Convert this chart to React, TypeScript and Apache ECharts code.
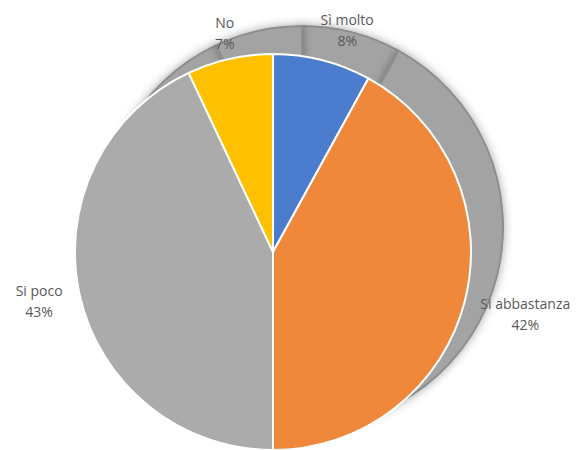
import React, { useEffect, useRef } from "react";
import * as echarts from "echarts";

const categories = ["Sì molto", "Si abbastanza", "Si poco", "No"];
const percentValues = [8, 42, 43, 7];
const sliceColors = ["#4B7CCD", "#F0883B", "#ABABAB", "#FFC000"];

const CX = 273;
const CY = 252;
const R = 198;
const LABEL_GAP = 12;

export default function App() {
  const ref = useRef<HTMLDivElement>(null);
  useEffect(() => {
    if (!ref.current) return;
    const chart = echarts.init(ref.current, null, { renderer: "svg" });
    const total = percentValues.reduce((a, b) => a + b, 0);
    const mids: number[] = [];
    let acc = 0;
    percentValues.forEach((v) => {
      mids.push(((acc + v / 2) / total) * Math.PI * 2);
      acc += v;
    });
    const data = categories.map((name, i) => ({
      name,
      value: percentValues[i],
      itemStyle: { color: sliceColors[i] },
    }));
    chart.setOption({
      animation: false,
      backgroundColor: "#ffffff",
      series: [
        {
          type: "pie",
          silent: true,
          center: [302, 227],
          radius: 201,
          startAngle: 90,
          z: 1,
          label: { show: false },
          labelLine: { show: false },
          itemStyle: {
            color: "#a3a3a3",
            borderColor: "#8e8e8e",
            borderWidth: 2,
            shadowBlur: 10,
            shadowColor: "rgba(0,0,0,0.35)",
          },
          data: percentValues.map((v, i) => ({ name: categories[i], value: v })),
        },
        {
          type: "pie",
          center: [CX, CY],
          radius: R,
          startAngle: 90,
          z: 2,
          itemStyle: { borderColor: "#ffffff", borderWidth: 2 },
          label: {
            show: true,
            position: "outside",
            formatter: "{b}\n{c}%",
            fontFamily: "Open Sans",
            fontSize: 14,
            lineHeight: 21,
            color: "#595959",
            align: "center",
            overflow: "none",
          },
          labelLine: { show: false },
          labelLayout: (p: any) => {
            const a = mids[p.dataIndex];
            const ux = Math.sin(a);
            const uy = -Math.cos(a);
            const w = p.labelRect.width;
            const h = p.labelRect.height;
            const ext = Math.abs(ux) * (w / 2 + 5) + Math.abs(uy) * (h * 0.2);
            const d = R + LABEL_GAP + ext;
            let x = CX + ux * d;
            const y = CY + uy * d - 3;
            if (p.dataIndex === 0) x += 18;
            return { x, y, align: "center", verticalAlign: "middle" };
          },
          data,
        },
      ],
    });
    return () => chart.dispose();
  }, []);
  return (
    <div
      ref={ref}
      style={{ position: "fixed", left: 0, top: 0, width: 576, height: 450 }}
    />
  );
}
